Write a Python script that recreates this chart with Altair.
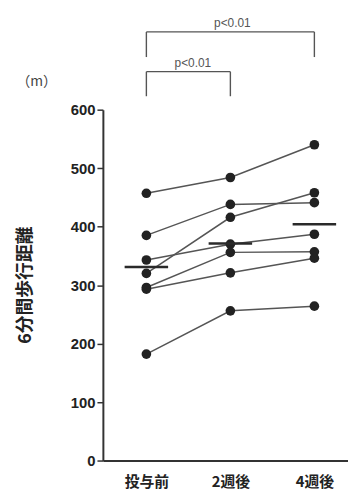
import altair as alt
import pandas as pd

visits = ["投与前", "2週後", "4週後"]
p1 = [457, 484, 540]
p2 = [385, 438, 441]
p3 = [320, 416, 458]
p4 = [343, 370, 387]
p5 = [296, 356, 357]
p6 = [293, 321, 346]
p7 = [182, 256, 264]
patients = [p1, p2, p3, p4, p5, p6, p7]
means = [331, 371, 404]

# significance brackets: (start, end, top value, leg bottom value, label)
br_start = ["投与前", "投与前"]
br_end = ["4週後", "2週後"]
br_top = [733, 665]
br_leg = [690, 623]
br_label = ["p<0.01", "p<0.01"]

rows = []
for i, p in enumerate(patients):
    for v, val in zip(visits, p):
        rows.append({"patient": f"P{i+1}", "visit": v, "dist": val})
df = pd.DataFrame(rows)
mdf = pd.DataFrame({"visit": visits, "dist": means})

hrows = []
legs = []
for s, e, t, l in zip(br_start, br_end, br_top, br_leg):
    hrows.append({"visit": s, "visit2": e, "dist": t})
    legs.append({"visit": s, "dist": t, "dist2": l})
    legs.append({"visit": e, "dist": t, "dist2": l})
hb = pd.DataFrame(hrows)
ldf = pd.DataFrame(legs)
tdf = pd.DataFrame({"visit": ["2週後", "投与前"], "dist": br_top, "label": br_label})

xscale = alt.Scale(type="point", domain=visits, padding=0.459, align=0.564)
yscale = alt.Scale(domain=[0, 600], nice=False)

xaxis = alt.Axis(labelAngle=0, ticks=False, labelPadding=14,
                 labelFont="Noto Sans CJK JP", labelFontSize=15,
                 labelFontWeight="bold", labelColor="#222",
                 domainColor="#333", domainWidth=2)
yaxis = alt.Axis(values=[0, 100, 200, 300, 400, 500, 600],
                 tickSize=6, tickColor="#333", tickWidth=1.5,
                 labelFontSize=15, labelFontWeight="bold",
                 labelColor="#222", labelPadding=2,
                 domainColor="#333", domainWidth=2, grid=False,
                 titleFont="Noto Sans CJK JP", titleFontSize=18,
                 titleFontWeight="bold", titleColor="#222",
                 titleX=-78, titleY=177, titleBaseline="middle",
                 titleAngle=-90)
YT = "6分間歩行距離"


def X(f="visit"):
    return alt.X(f"{f}:N", scale=xscale, sort=visits, title=None, axis=xaxis)


def Y(f="dist"):
    return alt.Y(f"{f}:Q", scale=yscale, title=YT, axis=yaxis)


lines = alt.Chart(df).mark_line(color="#555", strokeWidth=1.5).encode(
    x=X(), y=Y(), detail="patient:N")
points = alt.Chart(df).mark_circle(size=95, color="#222", opacity=1).encode(
    x=X(), y=Y())
meanbars = alt.Chart(mdf).mark_tick(color="#2a2a2a", thickness=2.5, size=44, opacity=1).encode(
    x=X(), y=Y())
hrules = alt.Chart(hb).mark_rule(color="#555", strokeWidth=1.4).encode(
    x=X(), x2="visit2:N", y=Y())
vrules = alt.Chart(ldf).mark_rule(color="#555", strokeWidth=1.4).encode(
    x=X(), y=Y(), y2="dist2:Q")
t1 = alt.Chart(tdf.iloc[[0]]).mark_text(fontSize=12, color="#555", baseline="bottom", dy=-2, dx=2).encode(
    x=X(), y=Y(), text="label:N")
t2 = alt.Chart(tdf.iloc[[1]]).mark_text(fontSize=12, color="#555", baseline="bottom", dy=-2, dx=47).encode(
    x=X(), y=Y(), text="label:N")
unit = alt.Chart(pd.DataFrame({"t": ["（m）"]})).mark_text(
    fontSize=14, color="#444", align="center", baseline="middle",
    font="Noto Sans CJK JP").encode(
    x=alt.value(-67), y=alt.value(-28), text="t:N")

chart = alt.layer(lines, points, meanbars, hrules, vrules, t1, t2, unit).properties(
    width=248, height=355,
    autosize=alt.AutoSizeParams(type="none"),
    padding={"left": 96, "top": 100, "right": 0, "bottom": 34},
    background="white",
).configure(font="Liberation Sans").configure_view(stroke=None)

chart.save("out.html", embed_options={"renderer": "svg", "actions": False})
